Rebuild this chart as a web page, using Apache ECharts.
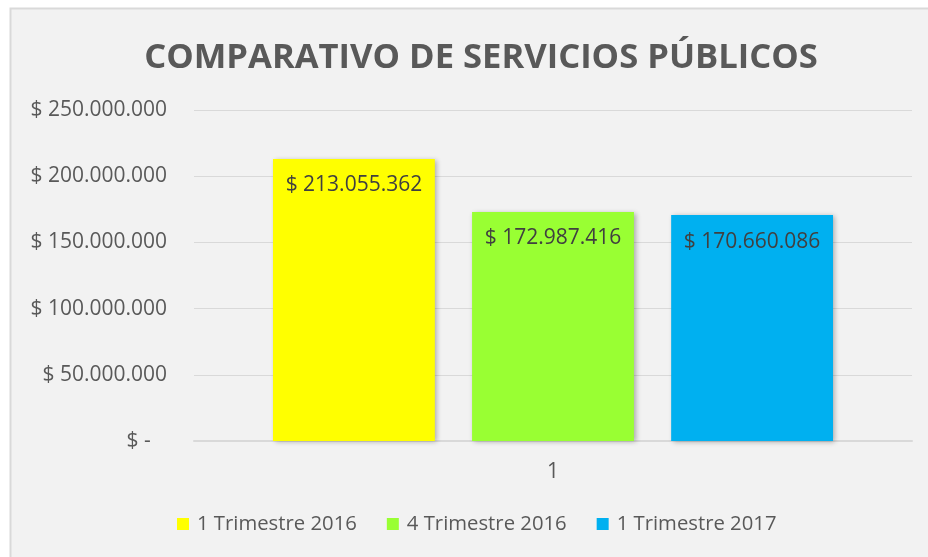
<!DOCTYPE html>
<html>
<head>
<meta charset="utf-8">
<script src="https://cdn.jsdelivr.net/npm/echarts@6/dist/echarts.min.js"></script>
<style>
  html, body { margin: 0; padding: 0; background: #fff; }
  #chart { width: 928px; height: 557px; }
</style>
</head>
<body>
<div id="chart"></div>
<script>
// datos
const categorias = ['1'];
const series = ['1 Trimestre 2016', '4 Trimestre 2016', '1 Trimestre 2017'];
const valores = [213055362, 172987416, 170660086];
const colores = ['#ffff00', '#99ff33', '#00b0f0'];
const ticksY = [0, 50000000, 100000000, 150000000, 200000000, 250000000];

function pesos(v) {
  return '$ ' + String(v).replace(/\B(?=(\d{3})+(?!\d))/g, '.');
}

const chart = echarts.init(document.getElementById('chart'));
const option = {
  backgroundColor: 'transparent',
  textStyle: { fontFamily: 'Open Sans' },
  graphic: [{
    type: 'rect', z: -10,
    shape: { x: 10.5, y: 8.5, width: 940, height: 560 },
    style: { fill: '#f2f2f2', stroke: '#d9d9d9', lineWidth: 2 }
  }],
  title: {
    text: 'COMPARATIVO DE SERVICIOS PÚBLICOS',
    left: 476,
    textAlign: 'center',
    top: 36,
    textStyle: { color: '#595959', fontSize: 34.6, fontWeight: 'bold', fontFamily: 'Open Sans' }
  },
  legend: {
    top: 509,
    left: 172,
    itemWidth: 12, itemHeight: 12, itemGap: 30,
    icon: 'rect',
    textStyle: { color: '#595959', fontSize: 20.3, padding: [0, 0, 0, 3] },
    data: series
  },
  grid: { left: 194, right: 16, top: 110, bottom: 116 },
  xAxis: {
    type: 'category',
    data: categorias,
    axisLine: { lineStyle: { color: '#d9d9d9', width: 2 } },
    axisTick: { show: false },
    axisLabel: { color: '#595959', fontSize: 21, margin: 21 }
  },
  yAxis: {
    type: 'value',
    min: ticksY[0], max: ticksY[ticksY.length - 1], interval: ticksY[1] - ticksY[0],
    axisLine: { show: false },
    axisTick: { show: false },
    splitLine: { lineStyle: { color: '#d9d9d9', width: 1 } },
    axisLabel: {
      color: '#595959', fontSize: 21, margin: 27,
      formatter: v => v === 0 ? '$ -   ' : pesos(v)
    }
  },
  series: series.map((nombre, i) => ({
    name: nombre,
    type: 'bar',
    data: [valores[i]],
    barGap: '23%',
    barCategoryGap: '22%',
    itemStyle: {
      color: colores[i],
      shadowBlur: 5, shadowOffsetX: 2, shadowOffsetY: 1, shadowColor: 'rgba(0,0,0,0.3)'
    },
    label: {
      show: true, position: 'insideTop', distance: 16,
      color: '#404040', fontSize: 21,
      formatter: p => pesos(p.value)
    }
  }))
};
chart.setOption(option);
</script>
</body>
</html>
